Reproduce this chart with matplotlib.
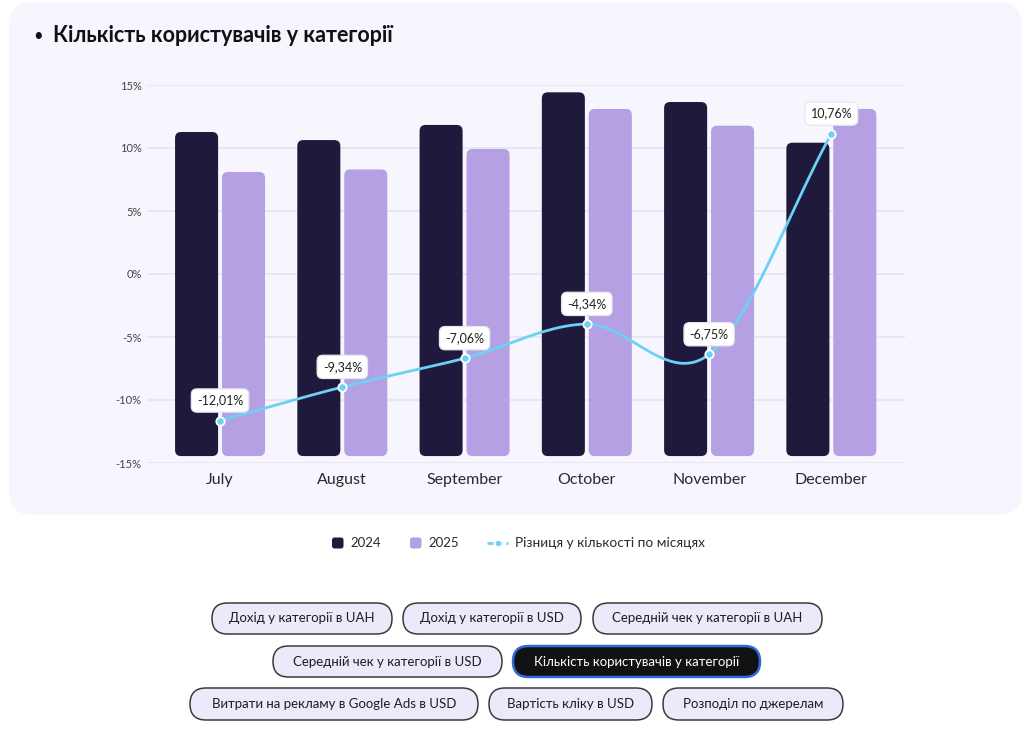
import numpy as np
import matplotlib
matplotlib.use('Agg')
import matplotlib.pyplot as plt
from matplotlib.patches import FancyBboxPatch
from matplotlib.lines import Line2D

# ---------------- data ----------------
months = ['July', 'August', 'September', 'October', 'November', 'December']
users_2024 = [11.27, 10.63, 11.83, 14.42, 13.65, 10.42]
users_2025 = [8.10, 8.30, 9.92, 13.10, 11.77, 13.10]
diff_pct = [-12.01, -9.34, -7.06, -4.34, -6.75, 10.76]
y_ticks = [-15, -10, -5, 0, 5, 10, 15]
series_names = ['2024', '2025', 'Різниця у кількості по місяцях']
title_text = 'Кількість користувачів у категорії'
button_rows = [
    ['Дохід у категорії в UAH', 'Дохід у категорії в USD', 'Середній чек у категорії в UAH'],
    ['Середній чек у категорії в USD', 'Кількість користувачів у категорії'],
    ['Витрати на рекламу в Google Ads в USD', 'Вартість кліку в USD', 'Розподіл по джерелам'],
]
active_button = 'Кількість користувачів у категорії'

# ---------------- style ----------------
plt.rcParams['font.family'] = ['Lato', 'DejaVu Sans']
C2024 = '#1F1A3B'
C2025 = '#B4A0E2'
CLINE = '#6DD0F5'
PANEL = '#F7F5FD'
GRID = '#E6E0F4'
TXT = '#2A2A2A'

W, H = 1024, 734
fig = plt.figure(figsize=(W / 100, H / 100), dpi=100)
fig.patch.set_facecolor('white')

# background / overlay axes in pixel coordinates
bg = fig.add_axes([0, 0, 1, 1], zorder=0)
bg.set_xlim(0, W)
bg.set_ylim(H, 0)
bg.axis('off')

bg.add_patch(FancyBboxPatch((9, 2), 1013, 513,
                            boxstyle='round,pad=0,rounding_size=24',
                            fc=PANEL, ec='none'))
bg.text(38, 36, '•', fontsize=12, color='#111111', ha='center', va='center')
bg.text(53, 36, title_text, fontsize=15.5, fontweight='bold', color='#111111',
        ha='left', va='center')

# ---------------- chart ----------------
left_px, right_px, top_px, bot_px = 146.7, 904.7, 85, 463
ax = fig.add_axes([left_px / W, 1 - bot_px / H, (right_px - left_px) / W,
                   (bot_px - top_px) / H], zorder=2)
ax.patch.set_alpha(0)
ax.set_xlim(-0.6, 5.6)
ax.set_ylim(y_ticks[0], y_ticks[-1])
ax.set_yticks(y_ticks)
ax.set_yticklabels([f'{t}%' for t in y_ticks])
ax.set_xticks(range(len(months)))
ax.set_xticklabels(months)
ax.tick_params(axis='y', length=0, pad=3.6, labelsize=8, labelcolor='#444444')
ax.tick_params(axis='x', length=0, pad=7.5, labelsize=11.5, labelcolor=TXT)
for s in ax.spines.values():
    s.set_visible(False)
ax.yaxis.grid(True, color=GRID, lw=1.1)
ax.set_axisbelow(True)

bw = 0.352
off = 0.192
base = y_ticks[0] + 0.55
px_x = (right_px - left_px) / 6.2
px_y = (bot_px - top_px) / 30.0
r_px = 6.0
for i in range(len(months)):
    for val, sgn, col in ((users_2024[i], -1, C2024), (users_2025[i], 1, C2025)):
        x0 = i + sgn * off - bw / 2
        p = FancyBboxPatch((x0, base), bw, val - base,
                           boxstyle=f'round,pad=0,rounding_size={r_px / px_x}',
                           mutation_aspect=px_x / px_y,
                           fc=col, ec='none', zorder=2)
        ax.add_patch(p)

# line on its own axis
ax2 = ax.twinx()
ax2.set_ylim(y_ticks[0] - 0.37, y_ticks[-1] - 0.37)
ax2.axis('off')
ax2.set_zorder(3)


def catmull_rom(xs, ys, n=40):
    xs = np.asarray(xs, float)
    ys = np.asarray(ys, float)
    m = np.zeros_like(ys)
    m[1:-1] = (ys[2:] - ys[:-2]) / (xs[2:] - xs[:-2])
    m[0] = ys[1] - ys[0]
    m[-1] = ys[-1] - ys[-2]
    ox, oy = [], []
    for k in range(len(xs) - 1):
        t = np.linspace(0, 1, n)
        h = xs[k + 1] - xs[k]
        h00 = 2 * t**3 - 3 * t**2 + 1
        h10 = t**3 - 2 * t**2 + t
        h01 = -2 * t**3 + 3 * t**2
        h11 = t**3 - t**2
        ox.append(xs[k] + t * h)
        oy.append(h00 * ys[k] + h10 * h * m[k] + h01 * ys[k + 1] + h11 * h * m[k + 1])
    return np.concatenate(ox), np.concatenate(oy)


xi = np.arange(len(months))
sx, sy = catmull_rom(xi, diff_pct)
ax2.plot(sx, sy, color=CLINE, lw=2.0, solid_capstyle='round', zorder=3)
ax2.plot(xi, diff_pct, ls='none', marker='o', ms=6.0, mfc=CLINE, mec='white',
         mew=1.3, zorder=4)
for x, v in zip(xi, diff_pct):
    lbl = f'{v:.2f}'.replace('.', ',') + '%'
    ax2.annotate(lbl, (x, v), xytext=(0, 14.5), textcoords='offset points',
                 ha='center', va='center', fontsize=9, color='#222222',
                 bbox=dict(boxstyle='round,pad=0.45,rounding_size=0.45',
                           fc='white', ec='#E9E5F2', lw=0.9),
                 zorder=5)

# ---------------- legend ----------------
ly = 543
bg.add_patch(FancyBboxPatch((332, ly - 5.5), 11.5, 11, boxstyle='round,pad=0,rounding_size=2.5',
                            fc=C2024, ec='none'))
bg.text(350.5, ly, series_names[0], fontsize=9.5, color=TXT, ha='left', va='center')
bg.add_patch(FancyBboxPatch((410, ly - 5.5), 11.5, 11, boxstyle='round,pad=0,rounding_size=2.5',
                            fc=C2025, ec='none'))
bg.text(428, ly, series_names[1], fontsize=9.5, color=TXT, ha='left', va='center')
bg.add_line(Line2D([487, 508], [ly, ly], color=CLINE, lw=2.0, ls=(0, (2.2, 1.2))))
bg.add_line(Line2D([497.5], [ly], marker='o', ms=5, mfc=CLINE, mec='white', mew=1.0))
bg.text(515, ly, series_names[2], fontsize=9.8, color=TXT, ha='left', va='center')

# ---------------- buttons ----------------
row_y = [(603, 634), (646, 677), (688, 720)]
row_x = [[(212, 392), (403, 581), (593, 822)],
         [(273, 502), (513, 760)],
         [(190, 478), (489, 652), (663, 843)]]
for labels, (y0, y1), xs in zip(button_rows, row_y, row_x):
    for lab, (x0, x1) in zip(labels, xs):
        active = lab == active_button
        hgt = y1 - y0
        bg.add_patch(FancyBboxPatch((x0, y0), x1 - x0, hgt,
                                    boxstyle=f'round,pad=0,rounding_size={hgt / 2}',
                                    fc='#121214' if active else '#EEE8FB',
                                    ec='#2F6BD8' if active else '#3A3A3A',
                                    lw=1.8 if active else 1.1))
        bg.text((x0 + x1) / 2, (y0 + y1) / 2, lab, fontsize=9.5,
                color='white' if active else '#1E1E1E', ha='center', va='center')

fig.savefig('out.png', dpi=100, facecolor='white')
